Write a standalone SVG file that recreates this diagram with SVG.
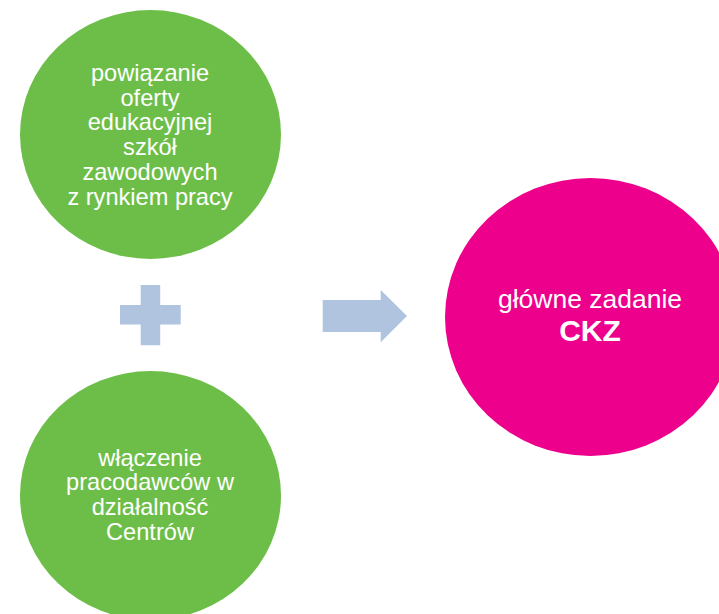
<svg xmlns="http://www.w3.org/2000/svg" width="719" height="614" viewBox="0 0 719 614">
<style>
.green{fill:#6DBE48}
.pink{fill:#EC008C}
.sym{fill:#B0C3DF}
.t{font-family:"Liberation Sans",Arial,sans-serif;fill:#ffffff;text-anchor:middle}
.g{font-size:23.6px}
.p{font-size:26.5px}
.b{font-size:30px;font-weight:bold}
</style>
<rect width="719" height="614" fill="#ffffff"/>
<g id="node-top">
<ellipse class="green" cx="150.5" cy="134.5" rx="130.5" ry="124.5"/>
<text class="t g" x="150" y="81">powiązanie</text>
<text class="t g" x="150" y="105.7">oferty</text>
<text class="t g" x="150" y="130.4">edukacyjnej</text>
<text class="t g" x="150" y="155.1">szkół</text>
<text class="t g" x="150" y="179.8">zawodowych</text>
<text class="t g" x="150" y="204.5">z rynkiem pracy</text>
</g>
<g id="node-bottom">
<ellipse class="green" cx="150.5" cy="495.5" rx="130.5" ry="124.5"/>
<text class="t g" x="150" y="465.5">włączenie</text>
<text class="t g" x="150" y="490.2">pracodawców w</text>
<text class="t g" x="150" y="514.9">działalność</text>
<text class="t g" x="150" y="539.6">Centrów</text>
</g>
<g id="node-ckz">
<ellipse class="pink" cx="590.4" cy="317" rx="145.4" ry="139"/>
<text class="t p" x="590" y="308">główne zadanie</text>
<text class="t b" x="590" y="341">CKZ</text>
</g>
<g id="connectors">
<path id="plus" class="sym" d="M140.7,285 H160.2 V305 H180.7 V324.5 H160.2 V345.3 H140.7 V324.5 H120 V305 H140.7 Z"/>
<path id="arrow" class="sym" d="M322.7,300 H380.7 V290 L407,316 L380.7,342.3 V332 H322.7 Z"/>
</g>
</svg>
